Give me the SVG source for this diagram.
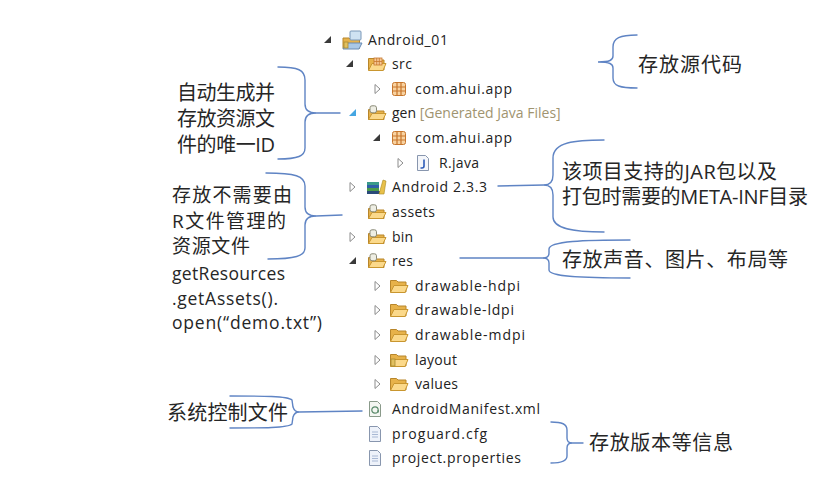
<svg xmlns="http://www.w3.org/2000/svg" width="834" height="493" viewBox="0 0 834 493">
<style>
.t{font-family:"Open Sans","Noto Sans",sans-serif;font-size:14px;fill:#222}
.g{fill:#a09470}
.a{font-family:"Open Sans","Noto Sans CJK SC",sans-serif;font-size:20px;fill:#262626}
.a2{font-family:"Open Sans","Noto Sans CJK SC",sans-serif;font-size:19px;fill:#262626}
.c{font-family:"Open Sans","Noto Sans CJK SC",sans-serif;font-size:17.5px;fill:#262626}
.br{fill:none;stroke:#5f84c4;stroke-width:1.4;stroke-linecap:round}
.ex{fill:#3a3a3a}
.co{fill:#fff;stroke:#8c8c8c;stroke-width:1}
</style>
<defs>
<symbol id="fold" viewBox="0 0 20 16">
<path d="M1.5 2.5h6l1.5 1.5h8v10h-15.5z" fill="#e7b24a" stroke="#b8862b"/>
<path d="M1.5 14.5l3.5-7h14l-3 7z" fill="#fbd98b" stroke="#c9962f"/>
</symbol>
<symbol id="gfold" viewBox="0 0 20 16">
<path d="M1.5 4.5h6l1.5 1.5h8v8.5h-15.5z" fill="#e7b24a" stroke="#b8862b"/>
<path d="M1.5 14.5l3.5-6h14l-3 6z" fill="#fbd98b" stroke="#c9962f"/>
<rect x="3" y="0.8" width="6.5" height="7" rx="2" fill="#eeeee4" stroke="#8a8a78"/>
</symbol>
<symbol id="sfold" viewBox="0 0 20 16">
<path d="M1.5 2.5h6l1.5 1.5h8v10h-15.5z" fill="#e7b24a" stroke="#b8862b"/>
<path d="M1.5 14.5l3.5-7h14l-3 7z" fill="#fbd98b" stroke="#c9962f"/>
<rect x="7" y="2" width="8" height="7" fill="#f6c896" stroke="#c7762c" stroke-width="0.8"/>
<path d="M9.7 2v7M12.3 2v7M7 5.5h8" stroke="#c7762c" stroke-width="0.8"/>
</symbol>
<symbol id="pkg" viewBox="0 0 16 16">
<rect x="1.5" y="1.5" width="13" height="13" rx="2" fill="#f8d2a0" stroke="#c7762c"/>
<path d="M6 1.5v13M10 1.5v13M1.5 6h13M1.5 10h13" stroke="#c7762c" stroke-width="1.2"/>
</symbol>
<symbol id="page" viewBox="0 0 14 16">
<path d="M1.5 .5h8l3 3v12h-11z" fill="#eef2fa" stroke="#8896ae"/>
<path d="M4 6h6M4 8.5h6M4 11h6" stroke="#a8b8d4" stroke-width="1"/>
</symbol>
<symbol id="jpage" viewBox="0 0 14 16">
<path d="M1.5 .5h8l3 3v12h-11z" fill="#f4f6fa" stroke="#8896ae"/>
<path d="M8 4.5v6.5q0 2-2 2h-1.5" fill="none" stroke="#2c5bb8" stroke-width="1.6"/>
</symbol>
<symbol id="xpage" viewBox="0 0 14 16">
<path d="M1.5 .5h8l3 3v12h-11z" fill="#f4f6f2" stroke="#8a9a8a"/>
<circle cx="7" cy="9" r="3.2" fill="none" stroke="#5a8a6a" stroke-width="1.2"/>
<path d="M10.2 9v2.5" stroke="#5a8a6a" stroke-width="1.2"/>
</symbol>
</defs>
<rect width="834" height="493" fill="#fff"/>

<g id="connectors">
<path class="br" d="M637 35 C620 35 613 38 613 47 L613 56 C613 60 610 62 598 62 C610 62 613 64 613 68 L613 78 C613 86 620 88 637 88"/>
<path class="br" d="M604 140 C575 140 553 142 553 158 L553 175 C553 182 550 185 544 185 C550 185 553 188 553 195 L553 217 C553 229 575 232 604 232"/>
<path class="br" d="M498 186 L544 185"/>
<path class="br" d="M630 240 C585 240 549 241 549 249 L549 253 C549 256 547 258 543 258 C547 258 549 260 549 263 L549 270 C549 277 585 278 630 278"/>
<path class="br" d="M460 258 L543 258"/>
<path class="br" d="M278 67 C298 67 305 70 305 80 L305 104 C305 110 308 113 316 113 C308 113 305 116 305 122 L305 148 C305 156 298 159 278 159"/>
<path class="br" d="M316 113 L340 113"/>
<path class="br" d="M266 173 C295 173 305 176 305 186 L305 207 C305 213 308 216 316 216 C308 216 305 219 305 225 L305 248 C305 256 295 259 268 259"/>
<path class="br" d="M316 216 L342 215"/>
<path class="br" d="M230 396 C262 396 288 396 292 400 L293 407 C294 410 296 412 299 412 C296 412 294 414 293 417 L292 424 C288 428 262 428 230 428"/>
<path class="br" d="M299 412 L362 411"/>
<path class="br" d="M551 422 C562 422 567 424 567 430 L567 438 C567 441 569 443 572 443 C569 443 567 445 567 448 L567 456 C567 461 562 463 551 463"/>
<path class="br" d="M572 443 L583 443"/>
</g>

<g id="tree">
<g id="n-android01">
<path class="ex" d="M331 36 L331 43 L324 43 Z"/>
<path d="M343 38h6l1.5 1.5h9v9h-16.5z" fill="#e7b24a" stroke="#b8862b"/>
<rect x="350" y="31" width="11" height="9" rx="1" fill="#cfe2f2" stroke="#7a98b8"/>
<path d="M343 49l3-6h16l-3 6z" fill="#aac8e6" stroke="#6a8cb4"/>
<rect x="344" y="42" width="4" height="6" fill="#e2c060" stroke="#a88a30" stroke-width="0.8"/>
<text class="t" x="368" y="45" textLength="80">Android_01</text>
</g>
<g id="n-src">
<path class="ex" d="M353 60 L353 67 L346 67 Z"/>
<use href="#sfold" x="367" y="56" width="20" height="16"/>
<text class="t" x="392" y="69" textLength="20">src</text>
</g>
<g id="n-pkg1">
<path class="co" d="M375 84.5 L380 89 L375 93.5 Z"/>
<use href="#pkg" x="391" y="81" width="16" height="16"/>
<text class="t" x="415" y="94" textLength="97">com.ahui.app</text>
</g>
<g id="n-gen">
<path d="M356 109 L356 116 L349 116 Z" fill="#45a6e2"/>
<use href="#gfold" x="367" y="105" width="20" height="16"/>
<text class="t" x="392" y="118"><tspan>gen</tspan> <tspan class="g">[Generated Java Files]</tspan></text>
</g>
<g id="n-pkg2">
<path class="ex" d="M380 134 L380 141 L373 141 Z"/>
<use href="#pkg" x="391" y="130" width="16" height="16"/>
<text class="t" x="415" y="143" textLength="97">com.ahui.app</text>
</g>
<g id="n-rjava">
<path class="co" d="M398 158.5 L403 163 L398 167.5 Z"/>
<use href="#jpage" x="416" y="155" width="14" height="16"/>
<text class="t" x="439" y="168" textLength="40">R.java</text>
</g>
<g id="n-android233">
<path class="co" d="M350 182.5 L355 187 L350 191.5 Z"/>
<rect x="367" y="182" width="12" height="3" fill="#3a9a8a"/>
<rect x="367" y="185" width="12" height="3" fill="#2f5fa8"/>
<rect x="367" y="188" width="12" height="3" fill="#4a9a4a"/>
<rect x="367" y="191" width="13" height="3" fill="#2a4a7a"/>
<path d="M379 194 L383 180 L386 181 L384 194 Z" fill="#e8c04a" stroke="#a88a20" stroke-width="0.6"/>
<text class="t" x="392" y="192" textLength="95">Android 2.3.3</text>
</g>
<g id="n-assets">
<use href="#gfold" x="367" y="204" width="20" height="16"/>
<text class="t" x="392" y="217" textLength="43">assets</text>
</g>
<g id="n-bin">
<path class="co" d="M350 232.5 L355 237 L350 241.5 Z"/>
<use href="#gfold" x="367" y="229" width="20" height="16"/>
<text class="t" x="392" y="242" textLength="21">bin</text>
</g>
<g id="n-res">
<path class="ex" d="M356 257 L356 264 L349 264 Z"/>
<use href="#gfold" x="367" y="253" width="20" height="16"/>
<text class="t" x="392" y="266" textLength="21">res</text>
</g>
<g id="n-hdpi">
<path class="co" d="M375 281.5 L380 286 L375 290.5 Z"/>
<use href="#fold" x="389" y="278" width="20" height="16"/>
<text class="t" x="415" y="291" textLength="105">drawable-hdpi</text>
</g>
<g id="n-ldpi">
<path class="co" d="M375 305.5 L380 310 L375 314.5 Z"/>
<use href="#fold" x="389" y="302" width="20" height="16"/>
<text class="t" x="415" y="315" textLength="99">drawable-ldpi</text>
</g>
<g id="n-mdpi">
<path class="co" d="M375 330.5 L380 335 L375 339.5 Z"/>
<use href="#fold" x="389" y="327" width="20" height="16"/>
<text class="t" x="415" y="340" textLength="110">drawable-mdpi</text>
</g>
<g id="n-layout">
<path class="co" d="M375 355.5 L380 360 L375 364.5 Z"/>
<use href="#fold" x="389" y="352" width="20" height="16"/>
<rect x="391" y="359" width="4" height="7" fill="#e2c060" stroke="#a88a30" stroke-width="0.8"/>
<text class="t" x="415" y="365" textLength="42">layout</text>
</g>
<g id="n-values">
<path class="co" d="M375 379.5 L380 384 L375 388.5 Z"/>
<use href="#fold" x="389" y="376" width="20" height="16"/>
<text class="t" x="415" y="389" textLength="43">values</text>
</g>
<g id="n-manifest">
<use href="#xpage" x="368" y="401" width="14" height="16"/>
<text class="t" x="392" y="414" textLength="148">AndroidManifest.xml</text>
</g>
<g id="n-proguard">
<use href="#page" x="368" y="426" width="14" height="16"/>
<text class="t" x="392" y="439" textLength="95">proguard.cfg</text>
</g>
<g id="n-props">
<use href="#page" x="368" y="450" width="14" height="16"/>
<text class="t" x="392" y="463" textLength="129">project.properties</text>
</g>
</g>

<g id="notes">
<g id="note-src"><text class="a" x="638" y="72" textLength="104">存放源代码</text></g>
<g id="note-jar">
<text class="a" x="562" y="179" textLength="215">该项目支持的JAR包以及</text>
<text class="a" x="562" y="204" textLength="246">打包时需要的META-INF目录</text>
</g>
<g id="note-res"><text class="a" x="562" y="267" textLength="226">存放声音、图片、布局等</text></g>
<g id="note-gen">
<text class="a" x="177" y="100" textLength="98">自动生成并</text>
<text class="a" x="177" y="126" textLength="98">存放资源文</text>
<text class="a" x="177" y="152" textLength="98">件的唯一ID</text>
</g>
<g id="note-assets">
<text class="a2" x="172" y="202" textLength="120">存放不需要由</text>
<text class="a2" x="172" y="228" textLength="114">R文件管理的</text>
<text class="a2" x="172" y="253" textLength="78">资源文件</text>
<text class="c" x="172" y="280" textLength="113">getResources</text>
<text class="c" x="172" y="305" textLength="106">.getAssets().</text>
<text class="c" x="172" y="329" textLength="150">open(“demo.txt”)</text>
</g>
<g id="note-manifest"><text class="a" x="167" y="420" textLength="121">系统控制文件</text></g>
<g id="note-version"><text class="a" x="589" y="450" textLength="144">存放版本等信息</text></g>
</g>
</svg>
